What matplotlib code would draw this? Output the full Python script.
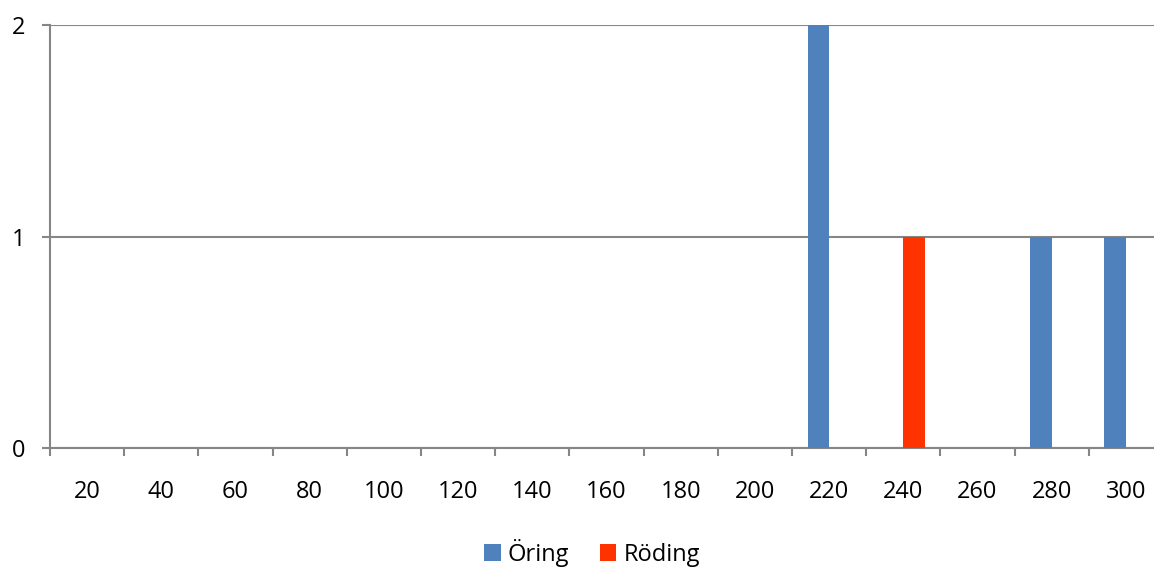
import numpy as np
import matplotlib
matplotlib.use("Agg")
import matplotlib.pyplot as plt
from matplotlib.ticker import FixedLocator, NullFormatter

categories = [20, 40, 60, 80, 100, 120, 140, 160, 180, 200, 220, 240, 260, 280, 300]
oring = [0, 0, 0, 0, 0, 0, 0, 0, 0, 0, 2, 0, 0, 1, 1]
roding = [0, 0, 0, 0, 0, 0, 0, 0, 0, 0, 0, 1, 0, 0, 0]
series_names = ["Öring", "Röding"]
series_colors = ["#4F81BD", "#FF3300"]

plt.rcParams['font.family'] = ['Open Sans', 'DejaVu Sans']
grey = "#868686"

fig = plt.figure(figsize=(11.54, 5.69), dpi=100)
# plot area runs a little past the right edge, like the cropped original
ax = fig.add_axes([50 / 1154, 1 - 448 / 569, 1113 / 1154, 423 / 569])

x = np.arange(len(categories))
w = 0.29
ax.bar(x - w / 2, oring, w, color=series_colors[0], label=series_names[0], zorder=3)
ax.bar(x + w / 2, roding, w, color=series_colors[1], label=series_names[1], zorder=3)

ax.set_xlim(-0.5, len(categories) - 0.5)
ax.set_ylim(0, 2)
ax.set_yticks([0, 1, 2])
ax.set_yticklabels(["0", "1", "2"])
ax.yaxis.grid(True, color=grey, linewidth=1.5, zorder=0)
ax.set_axisbelow(True)

ax.set_xticks(x)
ax.set_xticklabels([str(c) for c in categories])
ax.xaxis.set_minor_locator(FixedLocator(np.arange(len(categories) + 1) - 0.5))
ax.xaxis.set_minor_formatter(NullFormatter())
ax.tick_params(axis='x', which='major', length=0, pad=23, labelsize=17)
ax.tick_params(axis='x', which='minor', length=6, width=1.5, color=grey)
ax.tick_params(axis='y', length=6, width=1.5, color=grey, pad=12, labelsize=17)

for s in ["top", "right"]:
    ax.spines[s].set_visible(False)
for s in ["left", "bottom"]:
    ax.spines[s].set_color(grey)
    ax.spines[s].set_linewidth(1.5)

fig.legend(loc='center', bbox_to_anchor=(592 / 1154, 1 - 553 / 569), ncol=2,
           frameon=False, fontsize=17, handlelength=0.7, handleheight=0.7,
           handletextpad=0.3, columnspacing=1.3, borderpad=0.1)

fig.savefig("out.png", dpi=100)
